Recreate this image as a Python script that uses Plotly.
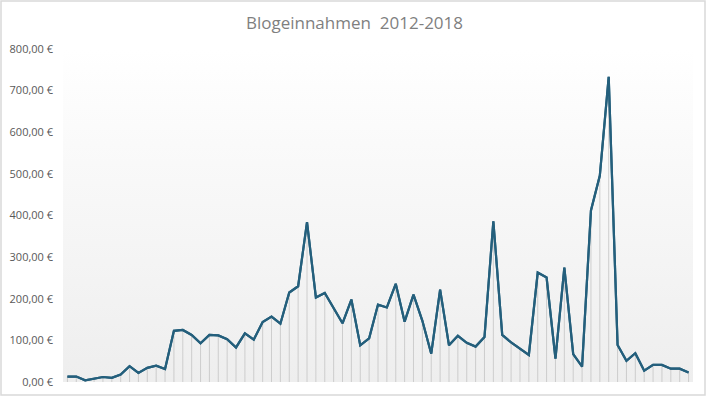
import plotly.graph_objects as go

# Monthly blog income (EUR)
months = list(range(71))
income = [13, 13, 4, 8, 12, 10, 18, 38, 22, 34, 39, 31,
          123, 125, 113, 93, 113, 112, 103, 83, 117, 102, 144, 157,
          140, 215, 230, 384, 203, 214, 177, 141, 198, 88, 105, 186,
          179, 236, 145, 210, 147, 68, 222, 88, 111, 94, 85, 108,
          386, 113, 95, 79, 65, 263, 251, 56, 275, 67, 37, 412,
          496, 733, 89, 51, 69, 27, 41, 41, 32, 32, 23]
y_ticks = [0, 100, 200, 300, 400, 500, 600, 700, 800]
y_tick_labels = ["0,00 \u20ac", "100,00 \u20ac", "200,00 \u20ac", "300,00 \u20ac",
                 "400,00 \u20ac", "500,00 \u20ac", "600,00 \u20ac", "700,00 \u20ac",
                 "800,00 \u20ac"]
title_text = "Blogeinnahmen  2012-2018"

x_lo, x_hi = months[0] - 0.5, months[-1] + 0.5
y_lo, y_hi = y_ticks[0], y_ticks[-1]

fig = go.Figure()

# gradient background of the plot area
fig.add_trace(go.Scatter(
    x=[x_lo, x_hi, x_hi, x_lo, x_lo],
    y=[y_lo, y_lo, y_hi, y_hi, y_lo],
    mode="lines", line=dict(width=0),
    fill="toself",
    fillgradient=dict(type="vertical",
                      colorscale=[[0, "#eeeeee"], [0.6, "#f8f8f8"], [1, "#ffffff"]]),
    hoverinfo="skip", showlegend=False,
))

# drop lines (as error bars down to zero)
fig.add_trace(go.Scatter(
    x=months, y=income, mode="lines",
    line=dict(color="#245f7c", width=2.2),
    error_y=dict(type="data", symmetric=False, array=[0] * len(income),
                 arrayminus=income, width=0, thickness=0.8, color="#c4c4c4"),
    showlegend=False,
))
# main line on top of the drop lines
fig.add_trace(go.Scatter(
    x=months, y=income, mode="lines",
    line=dict(color="#245f7c", width=2.2),
    showlegend=False,
))

fig.update_layout(
    width=709, height=398,
    margin=dict(l=63, r=16, t=49, b=16, autoexpand=False),
    paper_bgcolor="white", plot_bgcolor="white",
    title=dict(text=title_text, x=0.5, xref="container", xanchor="center",
               y=1 - 23 / 398, yanchor="middle",
               font=dict(family="Open Sans, Liberation Sans, sans-serif",
                         size=17, color="#7f7f7f")),
    xaxis=dict(range=[x_lo, x_hi], visible=False, showgrid=False, zeroline=False),
    yaxis=dict(range=[y_lo, y_hi], tickvals=y_ticks, ticktext=y_tick_labels,
               showgrid=False, zeroline=False, showline=False, automargin=False,
               ticks="", ticklabelstandoff=9,
               tickfont=dict(family="Open Sans, Liberation Sans, sans-serif",
                             size=11, color="#595959")),
    shapes=[dict(type="rect", xref="paper", yref="paper",
                 x0=(1 - 63) / 630, x1=(705 - 63) / 630,
                 y0=(382 - 395) / 333, y1=(382 - 1) / 333,
                 line=dict(color="#d9d9d9", width=1.5), layer="below")],
)

fig.write_html("out.html",
               config={"displayModeBar": False},
               post_script="document.body.style.margin='0';document.body.style.overflow='hidden';")
